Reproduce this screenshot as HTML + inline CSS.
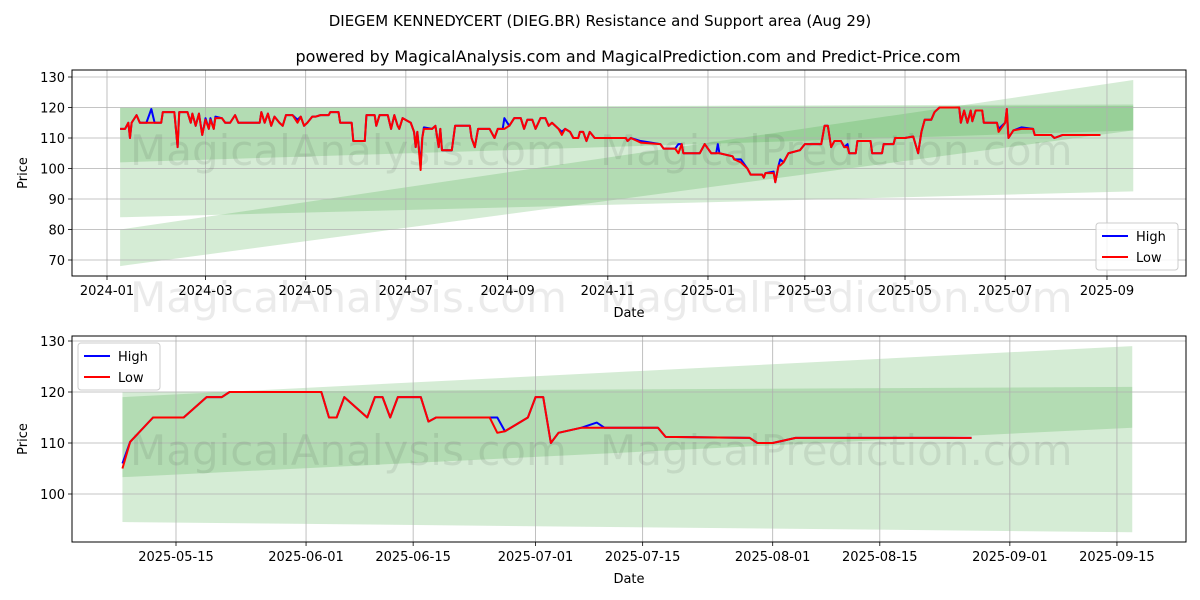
<!DOCTYPE html>
<html><head><meta charset="utf-8"><style>
html,body{margin:0;padding:0;background:#fff;}
svg{display:block;font-family:"DejaVu Sans","Liberation Sans",sans-serif;}
</style></head><body>
<svg id="chart" width="1200" height="600" xmlns="http://www.w3.org/2000/svg">
<text x="600" y="26" text-anchor="middle" font-size="15">DIEGEM KENNEDYCERT (DIEG.BR) Resistance and Support area (Aug 29)</text>
<text x="628" y="62" text-anchor="middle" font-size="16">powered by MagicalAnalysis.com and MagicalPrediction.com and Predict-Price.com</text>
<g id="top"></g>
<g id="bot"></g>
</svg>
<script>
// ---- top chart data (day offsets from 2024-01-01) ----
const topDays=[8,11,13,14,15,18,20,24,27,29,33,34,41,43,44,49,51,52,54,56,58,60,62,63,65,66,70,72,75,78,80,93,94,96,98,100,102,105,107,109,113,116,118,120,122,125,127,130,135,136,141,142,149,150,157,158,163,164,166,171,173,175,177,178,180,185,187,188,189,191,192,193,198,200,202,203,204,210,212,221,222,224,226,233,236,238,241,242,245,248,252,254,256,259,261,264,267,269,271,275,277,279,282,284,287,288,290,292,294,297,316,317,319,325,337,339,346,348,350,351,361,364,368,371,372,373,381,382,386,390,392,399,400,401,406,407,409,410,412,415,422,425,435,437,439,441,443,447,449,451,452,456,457,465,466,472,473,479,480,486,491,494,496,498,502,504,507,519,520,522,524,526,527,529,533,534,542,543,547,548,549,552,557,564,565,575,577,582,605];
const topLow=[113,113,115,110,115,117.5,115,115,115,115,115,118.5,118.5,107,118.5,118.5,115,118,114,118,111,116,113,116,113,116.5,116.5,115,115,117.5,115,115,118.5,115,118,114,117,115,114,117.5,117.5,115,117,114,115,117,117,117.5,117.5,118.5,118.5,115,115,109,109,117.5,117.5,114,117.5,117.5,113,117.5,114,113,116.5,115,112,107,112,99.5,110,113,113,114,107,113,106,106,114,114,110,107,113,113,110,113,113,113,114,116.5,116.5,113,116,116,113,116.5,116.5,114,115,113,111,113,112,110,110,112,112,109,112,110,110,109,110,108.5,108,106.5,106.5,105,108,105,105,108,105,105,105,105,104,103,102,100,98,98,97,98.5,98.5,95.5,101,101,102,105,106,108,108,114,114,107,109,109,107,107,105,105,109,109,105,105,108,108,110,110,110.5,105,112,116,116,118.5,120,120,115,119,115,119,115.5,119,119,115,115,112,115,119.5,110,112.5,113,113,111,111,110,111,111];
const topHigh=[113,113,115,110,115,117.5,115,115,119.5,115,115,118.5,118.5,107,118.5,118.5,115,118,114,118,111,116.5,113,116.5,113,117,116.5,115,115,117.5,115,115,118.5,115,118,114,117,115,114,117.5,117.5,116,117,114,115,117,117,117.5,117.5,118.5,118.5,115,115,109,109,117.5,117.5,114,117.5,117.5,113,117.5,114,113,116.5,115,112,107,112,101,110,113.5,113,114,107,113,106,106,114,114,110,107,113,113,110,113,113,116.5,114,116.5,116.5,113,116,116,113,116.5,116.5,114,115,113,112,113,112,110,110,112,112,109,112,110,110,109,110,109,108,106.5,106.5,108,108,105,105,108,105,105,108,105,104,103,103,100,98,98,97,98.5,99,95.5,101,103,102,105,106,108,108,114,114,107,109,109,107,108,105,105,109,109,105,105,108,108,110,110,110.5,105,112,116,116,118.5,120,120,115,119,115,119,115.5,119,119,115,115,113,115,119.5,110,112.5,113.5,113,111,111,110,111,111];
const topYTicks=[70,80,90,100,110,120,130];
const topXTickLabels=["2024-01","2024-03","2024-05","2024-07","2024-09","2024-11","2025-01","2025-03","2025-05","2025-07","2025-09"];
const topXTickDays=[0,60,121,182,244,305,366,425,486,547,609];
const topBandStart=[8,8,8], topBandEnd=[625,625,625];
const topBandTopA=[120,120,80], topBandTopB=[121,120.5,129];
const topBandBotA=[84,102,68], topBandBotB=[92.5,112.5,112.5];

// ---- bottom chart data (day offsets from 2025-05-15) ----
const botDays=[-7,-6,-3,1,4,6,7,19,20,21,22,25,26,27,28,29,32,33,34,41,42,43,46,47,48,49,50,53,55,56,63,64,75,76,78,81,104];
const botLow=[105,110.2,115,115,119,119,120,120,115,115,119,115,119,119,115,119,119,114.2,115,115,112,112.3,115,119,119,110,112,113,113,113,113,111.2,111,110,110,111,111];
const botHigh=[106,110.2,115,115,119,119,120,120,115,115,119,115,119,119,115,119,119,114.2,115,115,115,112.3,115,119,119,110,112,113,114,113,113,111.2,111,110,110,111,111];
const botYTicks=[100,110,120,130];
const botXTickLabels=["2025-05-15","2025-06-01","2025-06-15","2025-07-01","2025-07-15","2025-08-01","2025-08-15","2025-09-01","2025-09-15"];
const botXTickDays=[0,17,31,47,61,78,92,109,123];
const botBandStart=[-7,-7], botBandEnd=[125,125];
const botBandTopA=[120,119], botBandTopB=[121,129];
const botBandBotA=[94.5,103.3], botBandBotB=[92.5,113];

const NS="http://www.w3.org/2000/svg";
function mk(parent,tag,attrs){const e=document.createElementNS(NS,tag);for(const k in attrs)e.setAttribute(k,attrs[k]);parent.appendChild(e);return e;}

function panel(g,cfg){
  const {x0,x1,y0,y1,xs,ys}=cfg;
  for(let i=0;i<cfg.bs.length;i++){
    const xa=xs(cfg.bs[i]),xb=xs(cfg.be[i]);
    const p=mk(g,'polygon',{points:`${xa},${ys(cfg.ta[i])} ${xb},${ys(cfg.tb[i])} ${xb},${ys(cfg.bb[i])} ${xa},${ys(cfg.ba[i])}`,fill:'rgb(44,160,44)','fill-opacity':'0.2'});
    
    
  }
  cfg.xt.forEach((d,i)=>{
    const x=xs(d);
    const l=mk(g,'line',{x1:x,x2:x,y1:y0,y2:y1,stroke:'#b0b0b0','stroke-width':0.8});
    
    
    mk(g,'line',{x1:x,x2:x,y1:y1,y2:y1+4,stroke:'#000','stroke-width':0.8});
    const t=mk(g,'text',{x:x,y:y1+19,'text-anchor':'middle','font-size':13});
    t.textContent=cfg.xl[i];
    
    
  });
  cfg.yt.forEach(v=>{
    const y=ys(v);
    const l=mk(g,'line',{x1:x0,x2:x1,y1:y,y2:y,stroke:'#b0b0b0','stroke-width':0.8});
    
    
    mk(g,'line',{x1:x0-4,x2:x0,y1:y,y2:y,stroke:'#000','stroke-width':0.8});
    const t=mk(g,'text',{x:x0-7,y:y+5,'text-anchor':'end','font-size':13});
    t.textContent=v;
    
    
  });
  cfg.wm.forEach(w=>{
    const t=mk(g,'text',{x:w[0],y:w[1],'font-size':42,fill:'#000','fill-opacity':'0.08'});
    t.textContent=w[2];
    
    
  });
  const hp=cfg.d.map((d,i)=>xs(d)+','+ys(cfg.h[i])).join(' ');
  const lp=cfg.d.map((d,i)=>xs(d)+','+ys(cfg.l[i])).join(' ');
  const h=mk(g,'polyline',{points:hp,fill:'none',stroke:'#0000ff','stroke-width':2,'stroke-linejoin':'round'});
  
  
  const lo=mk(g,'polyline',{points:lp,fill:'none',stroke:'#ff0000','stroke-width':2,'stroke-linejoin':'round'});
  
  
  const fr=mk(g,'rect',{x:x0,y:y0,width:x1-x0,height:y1-y0,fill:'none',stroke:'#000','stroke-width':1});
  
  
  const xl=mk(g,'text',{x:(x0+x1)/2,y:y1+41,'text-anchor':'middle','font-size':13});
  xl.textContent='Date';
  
  
  const yl=mk(g,'text',{x:0,y:0,'text-anchor':'middle','font-size':13,transform:`translate(27,${(y0+y1)/2}) rotate(-90)`});
  yl.textContent='Price';
  
  
  const [lx,ly]=cfg.leg;
  const lg=mk(g,'g',{});
  
  
  mk(lg,'rect',{x:lx,y:ly,width:82,height:47,rx:3,fill:'#fff','fill-opacity':0.85,stroke:'#ccc'});
  [['High','#0000ff'],['Low','#ff0000']].forEach((e,i)=>{
    const yy=ly+13+i*21;
    const le=mk(lg,'g',{});
    
    
    mk(le,'line',{x1:lx+6,x2:lx+32,y1:yy,y2:yy,stroke:e[1],'stroke-width':2});
    const t=mk(le,'text',{x:lx+40,y:yy+5,'font-size':13});
    t.textContent=e[0];
  });
}

panel(document.getElementById('top'),{
  x0:72,x1:1186,y0:70,y1:276,
  xs:d=>107+d*1.642, ys:v=>77+(130-v)*3.05,
  bs:topBandStart,be:topBandEnd,ta:topBandTopA,tb:topBandTopB,ba:topBandBotA,bb:topBandBotB,
  xt:topXTickDays,xl:topXTickLabels,yt:topYTicks,
  d:topDays,h:topHigh,l:topLow,leg:[1096,223],
  wm:[[130,165,'MagicalAnalysis.com'],[600,165,'MagicalPrediction.com'],[130,312,'MagicalAnalysis.com'],[600,312,'MagicalPrediction.com']]
});
panel(document.getElementById('bot'),{
  x0:72,x1:1186,y0:336,y1:542,
  xs:d=>176+d*7.65, ys:v=>341+(130-v)*5.1,
  bs:botBandStart,be:botBandEnd,ta:botBandTopA,tb:botBandTopB,ba:botBandBotA,bb:botBandBotB,
  xt:botXTickDays,xl:botXTickLabels,yt:botYTicks,
  d:botDays,h:botHigh,l:botLow,leg:[78,343],
  wm:[[130,465,'MagicalAnalysis.com'],[600,465,'MagicalPrediction.com']]
});
</script>
</body></html>
